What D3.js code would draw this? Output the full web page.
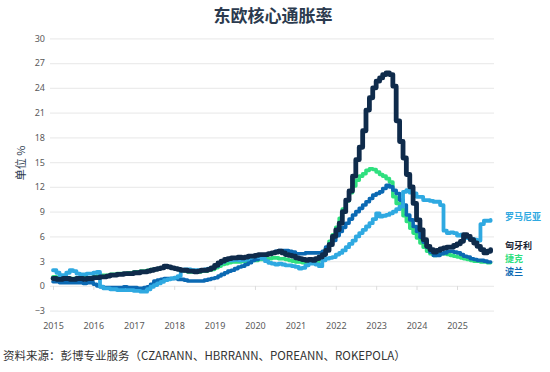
<!DOCTYPE html>
<html>
<head>
<meta charset="utf-8">
<script src="https://cdn.jsdelivr.net/npm/d3@7"></script>
<style>
  html, body { margin: 0; padding: 0; background: #fff; }
  svg { display: block; }
</style>
</head>
<body>
<svg id="chart" width="550" height="372"></svg>
<script>
// ---------------- DATA (monthly, Jan 2015 – Nov 2025) ----------------
const startYear = 2015;
const yTicks = [-3, 0, 3, 6, 9, 12, 15, 18, 21, 24, 27, 30];
const yearLabels = [2015, 2016, 2017, 2018, 2019, 2020, 2021, 2022, 2023, 2024, 2025];

const romania = [
  1.9, 1.6, 1.3, 1.3, 1.6, 1.9, 1.8, 1.5, 1.4, 1.4, 1.5, 1.5,
  1.6, 1.7, -0.1, -0.3, -0.3, -0.4, -0.4, -0.5, -0.5, -0.5, -0.5, -0.5,
  -0.6, -0.6, -0.7, -0.7, -0.4, -0.1, 0.1, 0.3, 0.5, 0.7, 0.8, 0.9,
  1.0, 1.2, 1.9, 2.0, 2.0, 1.9, 1.9, 1.9, 1.9, 2.0, 2.1, 2.2,
  2.4, 2.7, 2.9, 3.1, 3.1, 3.1, 3.2, 3.1, 3.1, 3.2, 3.4, 3.6,
  3.6, 3.5, 3.3, 3.0, 2.8, 2.7, 2.6, 2.7, 2.6, 2.5, 2.5, 2.4,
  2.3, 2.1, 2.2, 2.5, 2.7, 2.7, 2.6, 2.4, 3.1, 3.3, 3.4, 3.5,
  3.8, 4.0, 4.3, 4.7, 5.1, 5.5, 6.0, 6.4, 6.8, 7.2, 7.6, 8.1,
  8.8, 8.4, 8.5, 8.6, 8.8, 9.0, 9.3, 9.6, 11.4, 11.6, 11.3, 11.2,
  10.8, 10.8, 10.4, 10.4, 10.3, 10.2, 10.2, 9.8, 6.7, 6.4, 6.5, 6.4,
  6.1, 6.2, 6.0, 5.8, 5.7, 5.6, 5.5, 7.5, 7.9, 7.9, 8.0
];
const hungary = [
  0.9, 0.8, 0.8, 0.9, 0.9, 0.8, 0.8, 0.9, 0.9, 0.8, 0.9, 0.9,
  1.0, 1.0, 1.1, 1.1, 1.2, 1.3, 1.3, 1.4, 1.4, 1.5, 1.5, 1.5,
  1.6, 1.6, 1.7, 1.7, 1.8, 1.9, 2.0, 2.1, 2.2, 2.4, 2.3, 2.2,
  2.1, 2.0, 1.9, 1.9, 1.8, 1.8, 1.7, 1.8, 1.9, 1.9, 2.0, 2.2,
  2.5, 2.8, 3.0, 3.2, 3.3, 3.4, 3.4, 3.5, 3.4, 3.5, 3.6, 3.6,
  3.7, 3.8, 3.8, 3.8, 3.9, 4.0, 4.1, 4.2, 4.0, 3.8, 3.7, 3.6,
  3.4, 3.3, 3.2, 3.1, 3.2, 3.1, 3.3, 3.5, 3.8, 4.3, 5.0, 6.0,
  6.8, 7.6, 9.0, 10.4, 11.5, 13.3, 15.3, 16.8, 18.8, 21.3, 22.8, 24.0,
  24.8, 25.2, 25.6, 25.8, 25.6, 24.2, 20.0, 17.5, 15.5, 13.5, 12.0, 10.0,
  8.0, 6.8, 5.6, 4.8, 4.4, 4.1, 4.3, 4.5, 4.6, 4.7, 4.7, 4.9,
  5.1, 5.4, 6.2, 6.0, 5.6, 5.2, 4.8, 4.4, 4.0, 4.2, 4.4
];
const czech = [
  1.1, 1.0, 0.9, 1.0, 1.0, 0.9, 0.9, 1.0, 1.0, 1.0, 1.0, 1.0,
  1.1, 1.2, 1.3, 1.3, 1.3, 1.4, 1.4, 1.5, 1.5, 1.5, 1.6, 1.6,
  1.7, 1.7, 1.8, 1.8, 1.9, 2.0, 2.0, 2.1, 2.2, 2.3, 2.3, 2.2,
  2.1, 2.0, 1.9, 1.8, 1.7, 1.7, 1.7, 1.7, 1.8, 1.8, 1.9, 2.0,
  2.2, 2.4, 2.6, 2.7, 2.8, 2.9, 2.9, 2.9, 3.0, 3.0, 3.0, 3.1,
  3.1, 3.2, 3.2, 3.3, 3.3, 3.4, 3.4, 3.3, 3.3, 3.2, 3.1, 3.0,
  2.9, 2.9, 2.8, 2.8, 2.9, 2.9, 2.9, 3.3, 3.9, 4.6, 5.4, 6.2,
  7.1, 8.2, 9.3, 10.3, 11.3, 12.1, 12.8, 13.3, 13.6, 14.0, 14.2, 14.1,
  13.8, 13.5, 13.3, 13.0, 12.6, 10.8, 10.0, 9.4, 8.5, 7.8, 7.0, 6.4,
  5.8, 5.2, 4.7, 4.2, 3.9, 3.7, 3.8, 3.9, 3.9, 3.8, 3.7, 3.6,
  3.5, 3.4, 3.3, 3.2, 3.1, 3.0, 3.0, 2.9, 2.9, 2.8, 2.8
];
const poland = [
  0.5, 0.5, 0.4, 0.4, 0.4, 0.4, 0.4, 0.4, 0.4, 0.3, 0.4, 0.4,
  0.2, 0.0, -0.1, -0.2, -0.2, -0.2, -0.2, -0.2, -0.2, -0.1, -0.2, -0.2,
  -0.2, -0.3, -0.3, -0.2, -0.1, 0.2, 0.6, 0.7, 0.8, 0.9, 0.9, 0.9,
  0.9, 0.8, 0.8, 0.7, 0.6, 0.6, 0.6, 0.6, 0.6, 0.7, 0.8, 0.9,
  1.0, 1.2, 1.4, 1.6, 1.8, 1.9, 2.1, 2.3, 2.4, 2.6, 2.8, 3.1,
  3.2, 3.4, 3.6, 3.8, 3.9, 4.0, 4.2, 4.3, 4.3, 4.3, 4.2, 4.1,
  3.9, 3.9, 3.9, 4.0, 4.0, 4.0, 4.0, 4.0, 4.2, 4.7, 5.1, 5.5,
  6.1, 6.6, 7.1, 7.6, 8.1, 8.6, 9.0, 9.4, 9.8, 10.2, 10.6, 11.0,
  11.2, 11.4, 11.8, 12.2, 12.0, 11.6, 11.2, 10.4, 9.8, 8.6, 8.0, 7.2,
  6.6, 5.9, 5.3, 4.7, 4.1, 3.7, 3.7, 3.9, 4.0, 4.2, 4.2, 4.1,
  4.0, 3.8, 3.6, 3.5, 3.3, 3.2, 3.1, 3.1, 3.0, 2.9, 2.9
];

const seriesNames = ["罗马尼亚", "匈牙利", "捷克", "波兰"];
const seriesColors = ["#2fa9e1", "#0f2b4b", "#2fe07f", "#0b69b3"];
const labelColors = ["#2fa9e1", "#1b2434", "#2fe07f", "#0b69b3"];

// ---------------- CHART ----------------
const svg = d3.select("#chart");
const toDate = i => new Date(startYear, i, 1);

const x = d3.scaleTime()
  .domain([new Date(2015, 0, 1), new Date(2025, 0, 1)])
  .range([53, 457]);
const y = d3.scaleLinear().domain([-3, 30]).range([310.7, 38.3]);

// title
svg.append("text")
  .attr("x", 273).attr("y", 22)
  .attr("text-anchor", "middle")
  .style("font-family", "'Noto Sans CJK SC', sans-serif")
  .style("font-size", "17px").style("font-weight", "700")
  .style("fill", "#2b3a4e")
  .text("东欧核心通胀率");

// y grid + labels
const yAxis = svg.append("g")
  .attr("transform", "translate(50,0)")
  .call(d3.axisLeft(y).tickValues(yTicks).tickSize(-444).tickPadding(5).tickFormat(d3.format("d")));
yAxis.select(".domain").remove();
yAxis.selectAll(".tick line").attr("stroke", "#ececec").attr("stroke-width", 1.2);
yAxis.selectAll(".tick text")
  .style("font-family", "'Noto Sans', sans-serif")
  .style("font-size", "9px").style("fill", "#5a5a5a");

// x tick marks at year starts
const xTickAxis = svg.append("g")
  .attr("transform", `translate(0,${y(0)})`)
  .call(d3.axisBottom(x).ticks(d3.timeYear.every(1)).tickSize(4).tickFormat(""));
xTickAxis.select(".domain").remove();
xTickAxis.selectAll(".tick line").attr("stroke", "#dcdcdc");

// x labels (centred on the year ticks)
const xLabAxis = svg.append("g")
  .attr("transform", "translate(0,318)")
  .call(d3.axisBottom(x)
    .tickValues(yearLabels.map(yr => new Date(yr, 0, 1)))
    .tickSize(0).tickPadding(5)
    .tickFormat(d3.timeFormat("%Y")));
xLabAxis.select(".domain").remove();
xLabAxis.selectAll(".tick text")
  .style("font-family", "'Noto Sans', sans-serif")
  .style("font-size", "9px").style("fill", "#5a5a5a");

// y axis title
svg.append("text")
  .attr("transform", "translate(25,163) rotate(-90)")
  .attr("text-anchor", "middle")
  .style("font-family", "'Noto Sans CJK SC', sans-serif")
  .style("font-size", "11px")
  .style("fill", "#2b3a4e")
  .text("单位 %");

// lines
const line = d3.line()
  .x((d, i) => x(toDate(i)))
  .y(d => y(d))
  .curve(d3.curveStepAfter);

const drawOrder = [
  { data: czech, color: seriesColors[2], w: 3.6 },
  { data: poland, color: seriesColors[3], w: 3.6 },
  { data: romania, color: seriesColors[0], w: 3.8 },
  { data: hungary, color: seriesColors[1], w: 4.8 }
];
drawOrder.forEach(s => {
  svg.append("path")
    .datum(s.data)
    .attr("d", line)
    .attr("fill", "none")
    .attr("stroke", s.color)
    .attr("stroke-width", s.w)
    .attr("stroke-linejoin", "round")
    .attr("stroke-linecap", "round");
});

// end labels
const labelY = [218, 246.5, 259.5, 272.5];
seriesNames.forEach((n, i) => {
  svg.append("text")
    .attr("x", 505).attr("y", labelY[i])
    .attr("dominant-baseline", "middle")
    .style("font-family", "'Noto Sans CJK SC', sans-serif")
    .style("font-size", "9px").style("font-weight", "700")
    .style("fill", labelColors[i])
    .text(n);
});

// footer
svg.append("text")
  .attr("x", 3).attr("y", 360)
  .style("font-family", "'Noto Sans CJK SC', sans-serif")
  .style("font-size", "11.5px")
  .style("fill", "#333")
  .text("资料来源：彭博专业服务（CZARANN、HBRRANN、POREANN、ROKEPOLA）");
</script>
</body>
</html>
